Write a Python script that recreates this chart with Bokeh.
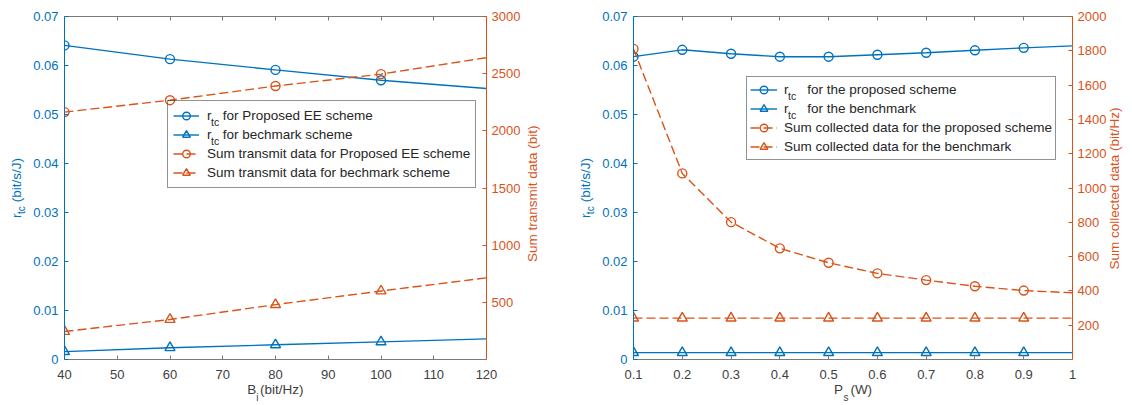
import math

from bokeh.embed import file_html
from bokeh.layouts import row
from bokeh.models import (FixedTicker, Label, Legend, LegendItem, LinearAxis,
                          PrintfTickFormatter, Range1d)
from bokeh.plotting import figure
from bokeh.resources import INLINE

BLUE = "#0072BD"
ORANGE = "#D95319"
INK = "#262626"
TICK_INK = "#404040"
AXIS_GRAY = "#7a7a7a"
FONT = "Liberation Sans"
NBSP = "\u00a0"

# ---- left panel: performance versus bandwidth B_i ----
bandwidth = [40, 60, 80, 100, 120]
rtc_proposed_bw = [0.0641, 0.0613, 0.0591, 0.0570, 0.0553]
rtc_bench_bw = [0.0016, 0.0024, 0.0030, 0.0036, 0.0042]
sum_proposed_bw = [2164, 2268, 2392, 2496, 2640]
sum_bench_bw = [245, 350, 480, 599, 714]
bw_ticks = [40, 50, 60, 70, 80, 90, 100, 110, 120]
bw_rtc_ticks = [0, 0.01, 0.02, 0.03, 0.04, 0.05, 0.06, 0.07]
bw_sum_ticks = [500, 1000, 1500, 2000, 2500, 3000]

# ---- right panel: performance versus sensing power P_s ----
power = [0.1, 0.2, 0.3, 0.4, 0.5, 0.6, 0.7, 0.8, 0.9, 1.0]
rtc_proposed_p = [0.0618, 0.0632, 0.0624, 0.0618, 0.0618, 0.0622, 0.0626, 0.0631, 0.0636, 0.0640]
rtc_bench_p = [0.0014, 0.0014, 0.0014, 0.0014, 0.0014, 0.0014, 0.0014, 0.0014, 0.0014, 0.0014]
sum_proposed_p = [1811, 1085, 801, 648, 564, 502, 463, 427, 402, 389]
sum_bench_p = [241, 241, 241, 241, 241, 241, 241, 241, 241, 241]
p_ticks = [0.1, 0.2, 0.3, 0.4, 0.5, 0.6, 0.7, 0.8, 0.9, 1.0]
p_rtc_ticks = [0, 0.01, 0.02, 0.03, 0.04, 0.05, 0.06, 0.07]
p_sum_ticks = [200, 400, 600, 800, 1000, 1200, 1400, 1600, 1800, 2000]

legend_bw = [
    "r" + NBSP * 3 + "for Proposed EE scheme",
    "r" + NBSP * 3 + "for bechmark scheme",
    "Sum transmit data for Proposed EE scheme",
    "Sum transmit data for bechmark scheme",
]
legend_p = [
    "r" + NBSP * 5 + "for the proposed scheme",
    "r" + NBSP * 5 + "for the benchmark",
    "Sum collected data for the proposed scheme",
    "Sum collected data for the benchmark",
]

# axis captions; subscripts live on bare helper axes stacked next to the main
# text, trailing spaces slide them into the gap left after the base letter
y_caption = "r" + NBSP * 3 + "(bit/s/J)"
y_sub = "tc" + NBSP * 16
bw_caption = "B" + NBSP + "(bit/Hz)"
bw_sub = "i" + NBSP * 13
bw_right_caption = "Sum transmit data (bit)"
p_caption = "P" + NBSP * 2 + "(W)"
p_sub = "s" + NBSP * 5
p_right_caption = "Sum collected data (bit/Hz)"


def style_axis(ax, line_color, label_color, ticks, standoff=6):
    ax.ticker = FixedTicker(ticks=ticks)
    ax.formatter = PrintfTickFormatter(format="%g")
    ax.axis_line_color = line_color
    ax.axis_line_width = 1
    ax.major_tick_line_color = line_color
    ax.major_tick_in = 4
    ax.major_tick_out = 0
    ax.minor_tick_line_color = None
    ax.minor_tick_in = 0
    ax.minor_tick_out = 0
    ax.major_label_text_color = label_color
    ax.major_label_text_font = FONT
    ax.major_label_text_font_size = "13px"
    ax.major_label_standoff = standoff


def caption(ax, text, color, size="13.5px", standoff=0):
    ax.axis_label = text
    ax.axis_label_text_font = FONT
    ax.axis_label_text_font_size = size
    ax.axis_label_text_font_style = "normal"
    ax.axis_label_text_color = color
    ax.axis_label_text_line_height = 1.0
    ax.axis_label_standoff = standoff


def bare_axis(text, color, size, standoff, **kw):
    ax = LinearAxis(**kw)
    ax.ticker = FixedTicker(ticks=[])
    ax.axis_line_color = None
    ax.major_tick_line_color = None
    ax.minor_tick_line_color = None
    ax.major_tick_in = 0
    ax.major_tick_out = 0
    ax.minor_tick_in = 0
    ax.minor_tick_out = 0
    ax.major_label_text_font_size = "0px"
    ax.major_label_standoff = 0
    caption(ax, text, color, size=size, standoff=standoff)
    return ax


def add_sub(p, x, y, text):
    p.add_layout(Label(x=x, y=y, x_units="screen", y_units="screen", text=text,
                       text_font=FONT, text_font_size="10.5px", text_color=INK,
                       text_baseline="middle", level="overlay"))


def build_panel(x, rtc_prop, rtc_bench, sum_prop, sum_bench, x_range, sum_max,
                x_ticks, rtc_ticks, sum_ticks, legend_labels, border_left,
                border_right, legend_loc, legend_pad, legend_glyph, legend_standoff,
                x_caption, x_sub, right_caption, right_pad, right_standoff):
    p = figure(width=566, height=405, output_backend="svg", toolbar_location=None,
               x_range=Range1d(*x_range), y_range=Range1d(0, 0.07),
               min_border_left=border_left, min_border_right=border_right,
               min_border_top=16, min_border_bottom=43)
    p.outline_line_color = None
    p.grid.visible = False
    p.background_fill_color = "white"
    p.border_fill_color = "white"
    p.extra_y_ranges = {"sum": Range1d(0, sum_max)}

    # bottom: tick labels, then the subscript, then the caption pulled back up
    xa = p.xaxis[0]
    style_axis(xa, AXIS_GRAY, TICK_INK, x_ticks, standoff=10)
    caption(xa, x_sub, TICK_INK, size="10px", standoff=10)
    p.add_layout(bare_axis(x_caption, TICK_INK, "13.5px", -24), "below")

    # left: tick labels, caption, then the subscript pulled back inward
    ya = p.yaxis[0]
    style_axis(ya, BLUE, BLUE, rtc_ticks)
    caption(ya, y_caption, BLUE, standoff=6)
    p.add_layout(bare_axis(y_sub, BLUE, "10px", -20), "left")

    right = LinearAxis(y_range_name="sum")
    style_axis(right, ORANGE, ORANGE, sum_ticks, standoff=5)
    props = right.properties()
    if "axis_label_orientation" in props and "axis_label_align" in props:
        # read bottom-to-top, starting from the lower end of the axis
        caption(right, NBSP * right_pad + right_caption, ORANGE, standoff=right_standoff)
        right.axis_label_orientation = math.pi / 2
        right.axis_label_align = "start"
    else:
        caption(right, right_caption, ORANGE, standoff=right_standoff)
    p.add_layout(right, "right")

    top = LinearAxis()
    style_axis(top, AXIS_GRAY, None, x_ticks, standoff=0)
    top.major_label_text_font_size = "1px"
    p.add_layout(top, "above")

    marked = slice(0, len(x) - 1)
    lw = 1.4
    l1 = p.line(x, rtc_prop, line_color=BLUE, line_width=lw)
    m1 = p.scatter(x[marked], rtc_prop[marked], marker="circle", size=9,
                   line_color=BLUE, fill_color=None, line_width=lw)
    l2 = p.line(x, rtc_bench, line_color=BLUE, line_width=lw)
    m2 = p.scatter(x[marked], rtc_bench[marked], marker="triangle", size=10,
                   line_color=BLUE, fill_color=None, line_width=lw)
    l3 = p.line(x, sum_prop, line_color=ORANGE, line_width=lw, line_dash="9 4",
                y_range_name="sum")
    m3 = p.scatter(x[marked], sum_prop[marked], marker="circle", size=9,
                   line_color=ORANGE, fill_color=None, line_width=lw, y_range_name="sum")
    l4 = p.line(x, sum_bench, line_color=ORANGE, line_width=lw, line_dash="9 4",
                y_range_name="sum")
    m4 = p.scatter(x[marked], sum_bench[marked], marker="triangle", size=10,
                   line_color=ORANGE, fill_color=None, line_width=lw, y_range_name="sum")

    legend = Legend(
        items=[LegendItem(label=legend_labels[0], renderers=[l1, m1]),
               LegendItem(label=legend_labels[1], renderers=[l2, m2]),
               LegendItem(label=legend_labels[2], renderers=[l3, m3]),
               LegendItem(label=legend_labels[3], renderers=[l4, m4])],
        location=legend_loc, padding=legend_pad, spacing=0, margin=0,
        glyph_width=legend_glyph, glyph_height=19, label_height=19,
        label_standoff=legend_standoff, label_text_font=FONT,
        label_text_font_size="13.5px", label_text_color=INK,
        border_line_color=INK, border_line_width=0.8,
        background_fill_alpha=0.0)
    p.add_layout(legend)
    return p


left = build_panel(bandwidth, rtc_proposed_bw, rtc_bench_bw, sum_proposed_bw,
                   sum_bench_bw, (40, 120), 3000, bw_ticks, bw_rtc_ticks,
                   bw_sum_ticks, legend_bw, 64, 80, (103, 171), 5, 26, 8,
                   bw_caption, bw_sub, bw_right_caption, 26, 9)
right = build_panel(power, rtc_proposed_p, rtc_bench_p, sum_proposed_p,
                    sum_bench_p, (0.1, 1.0), 2000, p_ticks, p_rtc_ticks,
                    p_sum_ticks, legend_p, 67, 59, (113, 199), 3, 27, 7,
                    p_caption, p_sub, p_right_caption, 24, 5)

# subscripts of the r_tc legend entries
add_sub(left, 146.5, 237.5, "tc")
add_sub(left, 146.5, 218.5, "tc")
add_sub(right, 154.5, 263.5, "tc")
add_sub(right, 154.5, 244.5, "tc")

page = row(left, right)
open("out.html", "w").write(file_html(page, INLINE))
